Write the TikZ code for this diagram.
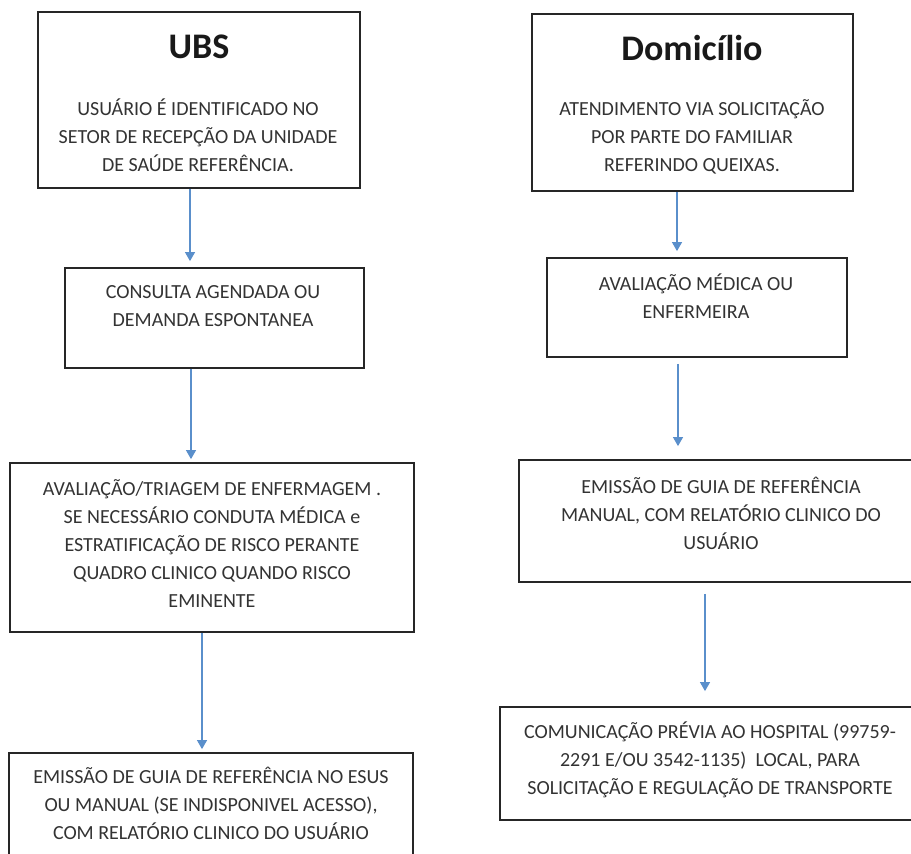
\documentclass[tikz,border=0pt]{standalone}
\usepackage{fontspec}
\setmainfont{Carlito}
\usetikzlibrary{arrows.meta}
\definecolor{azulseta}{HTML}{5A8FCB}
\definecolor{cinzatexto}{HTML}{333333}

\begin{document}
\begin{tikzpicture}[x=1pt,y=-1pt,
    caixa/.style={draw=black!85, line width=1.8pt, fill=white, inner sep=0pt},
    rotulo/.style={text=cinzatexto, align=center, inner sep=0pt, font=\fontsize{20}{28}\selectfont},
    titulo/.style={text=black!90, inner sep=0pt, font=\bfseries\fontsize{36}{40}\selectfont},
    seta/.style={draw=azulseta, line width=1.2pt, -{Triangle[width=10pt,length=9pt]}}]
    % Page frame
    \useasboundingbox (0,0) rectangle (911,854);
    \clip (0,0) rectangle (911,854);

    % Columns of the arrows
    \coordinate (xa) at (190,0);
    \coordinate (xb) at (191,0);
    \coordinate (xc) at (202,0);
    \coordinate (xd) at (677,0);
    \coordinate (xe) at (678,0);
    \coordinate (xf) at (705,0);

    % UBS column
    \node[caixa, minimum width=322pt, minimum height=176pt] (ubs) at (199,100) {};
    \node[titulo] (ubs-t) at (199,47) {UBS};
    \node[rotulo] (ubs-r) at (198,135) {USUÁRIO É IDENTIFICADO NO\\SETOR DE RECEPÇÃO DA UNIDADE\\DE SAÚDE REFERÊNCIA.};

    \node[caixa, minimum width=299pt, minimum height=100pt] (consulta) at (214.5,318) {};
    \node[rotulo] (consulta-r) at (213,306) {CONSULTA AGENDADA OU\\DEMANDA ESPONTANEA};

    \node[caixa, minimum width=404pt, minimum height=169pt] (triagem) at (212,547.5) {};
    \node[rotulo] (triagem-r) at (212,544) {AVALIAÇÃO/TRIAGEM DE ENFERMAGEM .\\SE NECESSÁRIO CONDUTA MÉDICA e\\ESTRATIFICAÇÃO DE RISCO PERANTE\\QUADRO CLINICO QUANDO RISCO\\EMINENTE};

    \node[caixa, minimum width=404pt, minimum height=130pt] (esus) at (211,818) {};
    \node[rotulo] (esus-r) at (211,803) {EMISSÃO DE GUIA DE REFERÊNCIA NO ESUS\\OU MANUAL (SE INDISPONIVEL ACESSO),\\COM RELATÓRIO CLINICO DO USUÁRIO};

    % Domicilio column
    \node[caixa, minimum width=321pt, minimum height=177pt] (dom) at (692.5,102.5) {};
    \node[titulo] (dom-t) at (692,48) {Domicílio};
    \node[rotulo] (dom-r) at (692,137) {ATENDIMENTO VIA SOLICITAÇÃO\\POR PARTE DO FAMILIAR\\REFERINDO QUEIXAS.};

    \node[caixa, minimum width=300pt, minimum height=99pt] (medica) at (697,307.5) {};
    \node[rotulo] (medica-r) at (696,296) {AVALIAÇÃO MÉDICA OU\\ENFERMEIRA};

    \node[caixa, minimum width=404pt, minimum height=122pt] (guia) at (721,521) {};
    \node[rotulo] (guia-r) at (721,513) {EMISSÃO DE GUIA DE REFERÊNCIA\\MANUAL, COM RELATÓRIO CLINICO DO\\USUÁRIO};

    \node[caixa, minimum width=420pt, minimum height=113pt] (hospital) at (710,763.5) {};
    \node[rotulo] (hospital-r) at (710,760) {COMUNICAÇÃO PRÉVIA AO HOSPITAL (99759-\\2291 E/OU 3542-1135)\ \ LOCAL, PARA\\SOLICITAÇÃO E REGULAÇÃO DE TRANSPORTE};

    % Arrows
    \draw[seta, shorten >=6pt] (ubs.south -| xa) -- (consulta.north -| xa);
    \draw[seta, shorten >=3pt] (consulta.south -| xb) -- (triagem.north -| xb);
    \draw[seta, shorten >=3pt] (triagem.south -| xc) -- (esus.north -| xc);
    \draw[seta, shorten >=6pt] (dom.south -| xd) -- (medica.north -| xd);
    \draw[seta, shorten <=6pt, shorten >=13pt] (medica.south -| xe) -- (guia.north -| xe);
    \draw[seta, shorten <=11pt, shorten >=15pt] (guia.south -| xf) -- (hospital.north -| xf);
\end{tikzpicture}
\end{document}
